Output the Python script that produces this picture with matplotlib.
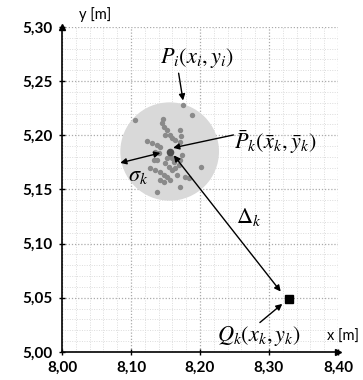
import matplotlib
matplotlib.use("Agg")
import matplotlib.pyplot as plt
from matplotlib.patches import Ellipse
import numpy as np

plt.rcParams['font.family'] = ['Lato', 'DejaVu Sans']
plt.rcParams['mathtext.fontset'] = 'stix'

# measured points P_i
xs = [8.1754, 8.1885, 8.1061, 8.2020, 8.1376, 8.1715,
      8.1449, 8.1473, 8.1463, 8.1521, 8.1497, 8.1570, 8.1594, 8.1642, 8.1715, 8.1730, 8.1705,
      8.1231, 8.1304, 8.1376, 8.1424, 8.1352, 8.1400, 8.1327, 8.1376,
      8.1570, 8.1594, 8.1618, 8.1521, 8.1497, 8.1545, 8.1594, 8.1642, 8.1691, 8.1715, 8.1740,
      8.1279, 8.1352, 8.1424, 8.1473, 8.1521, 8.1570, 8.1424, 8.1473, 8.1667, 8.1788, 8.1836]
ys = [5.2281, 5.2188, 5.2142, 5.1711, 5.1480, 5.1526,
      5.2112, 5.2080, 5.2149, 5.2050, 5.2004, 5.2004, 5.1973, 5.1958, 5.2050, 5.1994, 5.1942,
      5.1950, 5.1932, 5.1911, 5.1896, 5.1850, 5.1835, 5.1773, 5.1773,
      5.1819, 5.1789, 5.1757, 5.1789, 5.1742, 5.1711, 5.1681, 5.1696, 5.1727, 5.1773, 5.1819,
      5.1696, 5.1681, 5.1665, 5.1634, 5.1619, 5.1588, 5.1588, 5.1573, 5.1634, 5.1619, 5.1603]

mean_x, mean_y = 8.156, 5.185
sigma_w, sigma_h = 0.141, 0.0895   # circle drawn round on screen
q_x, q_y = 8.329, 5.049

xticks = [8.00, 8.10, 8.20, 8.30, 8.40]
xlabels = ["8,00", "8,10", "8,20", "8,30", "8,40"]
yticks = [5.00, 5.05, 5.10, 5.15, 5.20, 5.25, 5.30]
ylabels = ["5,00", "5,05", "5,10", "5,15", "5,20", "5,25", "5,30"]

fig = plt.figure(figsize=(3.63, 3.80), dpi=100)
ax = fig.add_axes([0.171, 0.074, 0.76, 0.855])
ax.set_xlim(8.0, 8.40)
ax.set_ylim(5.0, 5.30)

# grid
ax.set_xticks(xticks)
ax.set_yticks(yticks)
ax.set_xticks(np.arange(8.0, 8.401, 0.02), minor=True)
ax.set_yticks(np.arange(5.0, 5.301, 0.01), minor=True)
ax.grid(which='major', color='#aaaaaa', linestyle=(0, (1, 1.5)), linewidth=0.9)
ax.grid(which='minor', color='#dcdcdc', linestyle=(0, (1, 1.5)), linewidth=0.7)
ax.set_axisbelow(True)
ax.tick_params(which='minor', length=0)
ax.tick_params(which='major', direction='inout', length=5, width=1, pad=4)
ax.set_xticklabels(xlabels, fontsize=11, fontweight='bold')
ax.set_yticklabels(ylabels, fontsize=11, fontweight='bold')

for s in ['top', 'right']:
    ax.spines[s].set_visible(False)
for s in ['left', 'bottom']:
    ax.spines[s].set_linewidth(1.2)
ax.plot(1, 0, '>k', ms=4, transform=ax.transAxes, clip_on=False)
ax.plot(0, 1, '^k', ms=4, transform=ax.transAxes, clip_on=False)

# sigma circle
ax.add_patch(Ellipse((mean_x, mean_y), sigma_w, sigma_h, color='#d9d9d9', zorder=1))
ax.scatter(xs, ys, s=15, color='#8a8a8a', zorder=2, linewidths=0)
ax.scatter([mean_x], [mean_y], s=30, color='#505050', zorder=3, linewidths=0)
ax.plot([q_x], [q_y], 's', color='k', ms=5.5, zorder=4)

arr = dict(arrowstyle='-|>', color='k', lw=1, mutation_scale=9, shrinkA=0, shrinkB=0)
arr2 = dict(arrowstyle='<|-|>', color='k', lw=1, mutation_scale=9, shrinkA=0, shrinkB=0)

mfs = 16
ax.text(8.196, 5.2715, r'$P_i(x_i,y_i)$', fontsize=mfs, ha='center', va='center')
ax.annotate('', xy=(8.1754, 5.2321), xytext=(8.169, 5.2573), arrowprops=arr)

ax.text(8.249, 5.194, r'$\bar{P}_k(\bar{x}_k,\bar{y}_k)$', fontsize=mfs, ha='left', va='center')
ax.annotate('', xy=(8.161, 5.1884), xytext=(8.2485, 5.2003), arrowprops=arr)

ax.annotate('', xy=(8.0843, 5.1745), xytext=(8.1424, 5.1837), arrowprops=arr2)
ax.text(8.110, 5.162, r'$\sigma_k$', fontsize=mfs, ha='center', va='center')

ax.annotate('', xy=(8.317, 5.0557), xytext=(8.162, 5.1815), arrowprops=arr2)
ax.text(8.271, 5.125, r'$\Delta_k$', fontsize=mfs, ha='center', va='center')

ax.text(8.285, 5.0148, r'$Q_k(x_k,y_k)$', fontsize=mfs, ha='center', va='center')
ax.annotate('', xy=(8.3193, 5.0443), xytext=(8.2868, 5.0271), arrowprops=arr)

ax.text(8.408, 5.014, 'x [m]', fontsize=10.5, ha='center', va='center')
ax.text(8.048, 5.305, 'y [m]', fontsize=10.5, ha='center', va='bottom')

fig.savefig('out.png', dpi=100)
